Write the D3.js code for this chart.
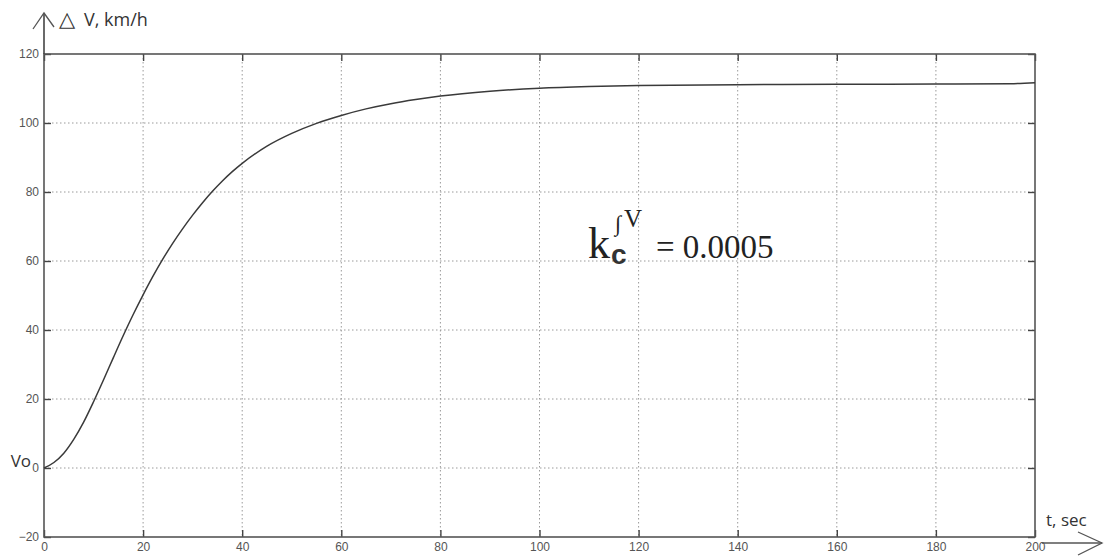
<!DOCTYPE html>
<html><head><meta charset="utf-8">
<script src="https://cdn.jsdelivr.net/npm/d3@7"></script>
<style>body{margin:0;background:#fff}svg{display:block}</style></head>
<body><svg id="c" width="1104" height="557"></svg>
<script>
const timeSec = [0,2,4,6,8,10,12,14,16,18,20,22,24,26,28,30,32,34,36,38,40,45,50,55,60,65,70,75,80,90,100,110,120,140,160,180,195,200];
const deltaV  = [0,1.6,4.3,8.3,13.3,19.2,25.5,32,38.4,44.5,50.2,55.6,60.6,65.2,69.4,73.3,76.9,80.2,83.2,85.9,88.3,93.3,97,99.9,102.2,104.1,105.6,106.8,107.8,109.2,110.1,110.6,110.9,111.1,111.2,111.3,111.4,111.7];
const xTicks = [0,20,40,60,80,100,120,140,160,180,200];
const yTicks = [-20,0,20,40,60,80,100,120];
const yLabelSymbol = "\u25B3";
const yLabel = "V, km/h";
const xLabel = "t, sec";

const svg = d3.select("#c");
const x = d3.scaleLinear().domain([0,200]).range([44,1035]);
const y = d3.scaleLinear().domain([-20,120]).range([537,54]);
const [x0,x1] = x.range(), [y0,y1] = y.range();
const tickFont = "'Liberation Sans Narrow','Arial Narrow','Liberation Sans',sans-serif";
const labelFont = "'Open Sans','DejaVu Sans',sans-serif";

// grid
const g = svg.append("g");
g.selectAll(".vg").data(xTicks.slice(1,-1)).join("line")
  .attr("x1",d=>x(d)).attr("x2",d=>x(d)).attr("y1",y1).attr("y2",y0)
  .attr("stroke","#9a9a9a").attr("stroke-width",1).attr("stroke-dasharray","1.5,2.5");
g.selectAll(".hg").data(yTicks.slice(1,-1)).join("line")
  .attr("y1",d=>y(d)).attr("y2",d=>y(d)).attr("x1",x0).attr("x2",x1)
  .attr("stroke","#9a9a9a").attr("stroke-width",1).attr("stroke-dasharray","1.5,2.5");

// axes with inward ticks
const axB = d3.axisBottom(x).tickValues(xTicks).tickSize(-7).tickPadding(5).tickFormat(d3.format("d"));
const axL = d3.axisLeft(y).tickValues(yTicks).tickSize(-7).tickPadding(5).tickFormat(d3.format("d"));
const axT = d3.axisTop(x).tickValues(xTicks).tickSize(-7).tickFormat("");
const axR = d3.axisRight(y).tickValues(yTicks).tickSize(-7).tickFormat("");
function style(sel){
  sel.select(".domain").remove();
  sel.selectAll(".tick line").attr("stroke","#444").attr("stroke-width",1.4);
  sel.selectAll(".tick text").attr("fill","#555").style("font-family",tickFont).style("font-size","12px");
}
svg.append("g").attr("transform",`translate(0,${y0})`).call(axB).call(style);
svg.append("g").attr("transform",`translate(${x0},0)`).call(axL).call(style);
svg.append("g").attr("transform",`translate(0,${y1})`).call(axT).call(style);
svg.append("g").attr("transform",`translate(${x1},0)`).call(axR).call(style);

// frame
svg.append("rect").attr("x",x0).attr("y",y1).attr("width",x1-x0).attr("height",y0-y1)
  .attr("fill","none").attr("stroke","#555").attr("stroke-width",1.6);

// vertical axis arrow
svg.append("line").attr("x1",x0).attr("x2",x0).attr("y1",y1).attr("y2",13)
  .attr("stroke","#444").attr("stroke-width",1.6);
svg.append("path").attr("d",`M${x0-11},${29} L${x0},${13} L${x0+10},${27}`)
  .attr("fill","none").attr("stroke","#555").attr("stroke-width",1.3);
const yl = svg.append("text").attr("x",59).attr("y",26).attr("fill","#333")
  .style("font-family",labelFont).style("font-size","18px");
yl.append("tspan").text(yLabelSymbol).style("font-family","'DejaVu Sans',sans-serif").style("font-size","21px");
yl.append("tspan").attr("x",84).text(yLabel);

// horizontal axis arrow
svg.append("line").attr("x1",1042).attr("x2",1102).attr("y1",543).attr("y2",543)
  .attr("stroke","#555").attr("stroke-width",1.3);
svg.append("path").attr("d","M1078,532 L1102,543 L1078,555")
  .attr("fill","none").attr("stroke","#555").attr("stroke-width",1.3);
svg.append("text").attr("x",1046).attr("y",526).text(xLabel)
  .attr("fill","#333").style("font-family",labelFont).style("font-size","17px");

// Vo label next to 0 tick
svg.append("text").attr("x",31).attr("y",y(0)-1).attr("text-anchor","end").text("Vo")
  .attr("fill","#333").style("font-family",labelFont).style("font-size","17px");

// curve
const pts = timeSec.map((t,i)=>[t,deltaV[i]]);
svg.append("path").datum(pts)
  .attr("d",d3.line().x(d=>x(d[0])).y(d=>y(d[1])).curve(d3.curveMonotoneX))
  .attr("fill","none").attr("stroke","#3a3a3a").attr("stroke-width",1.5);

// annotation
const ann = svg.append("g").style("font-family","'Liberation Serif','Times New Roman',serif").attr("fill","#222");
ann.append("text").attr("x",588).attr("y",258).text("k").style("font-size","44px");
ann.append("text").attr("x",611).attr("y",264).text("c").style("font-size","28px").style("font-family","'Liberation Sans',sans-serif").style("font-weight","bold").attr("fill","#333");
ann.append("text").attr("x",615).attr("y",231).text("\u222B").style("font-size","22px");
ann.append("text").attr("x",624).attr("y",227).text("V").style("font-size","25px");
ann.append("text").attr("x",656).attr("y",258).text("= 0.0005").style("font-size","33px");
</script>
</body></html>
